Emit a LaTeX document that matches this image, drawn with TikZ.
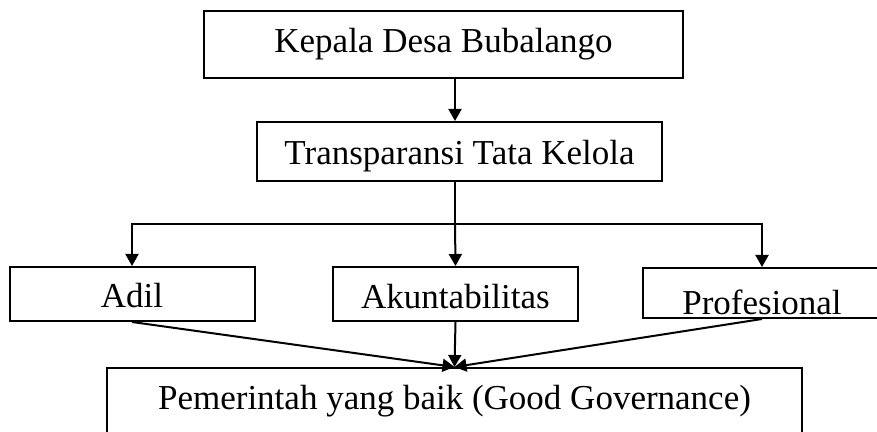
\documentclass[tikz,border=0pt]{standalone}
\usepackage{fontspec}
\setmainfont{Liberation Serif}
\usetikzlibrary{arrows.meta}

\begin{document}
\begin{tikzpicture}[x=0.5pt,y=0.5pt,line width=1pt,
  box/.style={shape=rectangle,draw=black,line width=1pt,inner sep=0pt,
    text depth=0pt,font=\fontsize{17.5}{21}\selectfont},
  >={Triangle[length=6pt,width=6.5pt]}]
\useasboundingbox (0,0) rectangle (877,432);

\node[box,text height=8.5pt,minimum width=239.5pt,minimum height=33.5pt] (kepala) at (443.5,387.5){Kepala Desa Bubalango};
\node[box,text height=13.5pt,minimum width=202.5pt,minimum height=29.5pt] (trans) at (459.5,280.5){Transparansi Tata Kelola};

\node[box,text height=14pt,minimum width=122.5pt,minimum height=27pt] (adil) at (132,138){Adil};
\node[box,text height=14.5pt,minimum width=122.5pt,minimum height=27pt] (akun) at (455.5,138){Akuntabilitas};
\node[box,text height=21.5pt,minimum width=119pt,minimum height=25pt] (prof) at (762,139){Profesional};

\node[box,text height=8pt,minimum width=347.5pt,minimum height=34pt] (good) at (454.5,30){Pemerintah yang baik (Good Governance)};

\coordinate (split) at (455,208);

\path [->] (kepala.south -| split) edge (trans.north -| split);
\draw (trans.south -| split) -- (split);
\draw [->] (split) -| (adil.north);
\draw [->] (split) -| (prof.north);
\path [->] (split) edge (akun.north);

\path [->] (adil.south) edge (good.north);
\path [->] (akun.south) edge (good.north);
\path [->] (prof.south) edge (good.north);
\end{tikzpicture}
\end{document}
